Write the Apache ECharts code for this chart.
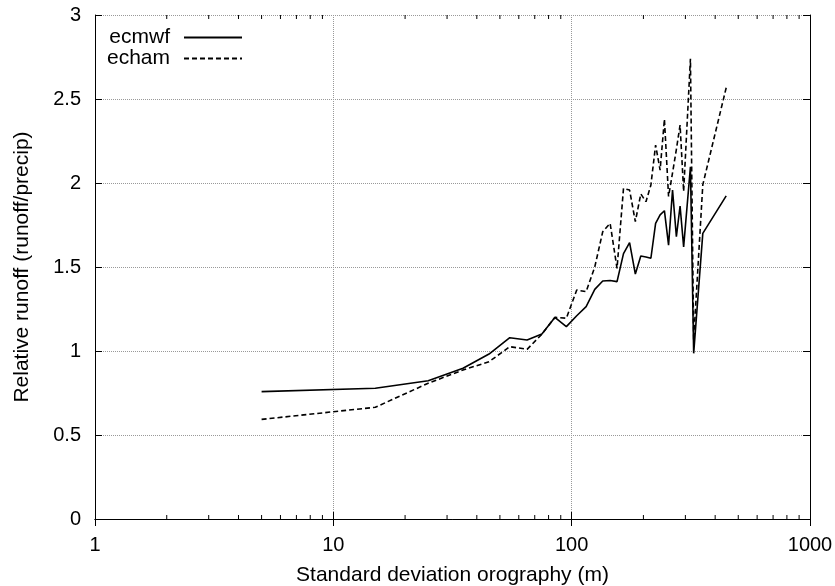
<!DOCTYPE html>
<html>
<head>
<meta charset="utf-8">
<title>Relative runoff</title>
<script src="https://cdn.jsdelivr.net/npm/echarts@6/dist/echarts.min.js"></script>
<style>
  html, body { margin: 0; padding: 0; background: #fff; }
  #chart { width: 835px; height: 586px; }
</style>
</head>
<body>
<div id="chart"></div>
<script>
// bins of standard deviation orography (m)
const orography = [5, 15, 25, 35, 45, 55, 65, 75, 85, 95, 105, 115, 125, 135, 145, 155, 165, 175,
  185, 195, 205, 215, 225, 235, 245, 255, 265, 275, 285, 295, 315, 325, 355, 445];

const ecmwf = [0.758, 0.778, 0.823, 0.897, 0.982, 1.079, 1.065, 1.101, 1.20, 1.145, 1.21, 1.264,
  1.367, 1.417, 1.42, 1.413, 1.58, 1.645, 1.458, 1.565, 1.56, 1.552, 1.76, 1.81, 1.835, 1.63,
  1.958, 1.68, 1.863, 1.62, 2.097, 0.986, 1.70, 1.923];

const echam = [0.593, 0.665, 0.808, 0.887, 0.936, 1.026, 1.01, 1.10, 1.20, 1.195, 1.363, 1.353,
  1.50, 1.71, 1.76, 1.492, 1.968, 1.958, 1.77, 1.935, 1.889, 1.988, 2.226, 2.077, 2.38, 1.92,
  2.06, 2.2, 2.345, 1.95, 2.74, 1.065, 1.99, 2.567];

// minor ticks of the log axis
const minorTicks = [2, 3, 4, 5, 6, 7, 8, 9, 20, 30, 40, 50, 60, 70, 80, 90,
  200, 300, 400, 500, 600, 700, 800, 900];

const font = "'Liberation Sans', Arial, Helvetica, sans-serif";

const chart = echarts.init(document.getElementById('chart'), null, { renderer: 'canvas' });

function pairs(xs, ys) {
  return xs.map(function (x, i) { return [x, ys[i]]; });
}

const option = {
  backgroundColor: '#fff',
  animation: false,
  textStyle: { fontFamily: font, color: '#000' },
  grid: { left: 95, right: 25, top: 15, bottom: 67, outerBoundsMode: 'none', containLabel: false },
  legend: {
    data: ['ecmwf', 'echam'],
    orient: 'vertical',
    align: 'right',
    left: 93,
    top: 22,
    itemWidth: 58,
    itemHeight: 14,
    itemGap: 0,
    itemStyle: { color: 'transparent', borderColor: 'transparent', borderWidth: 0, opacity: 0 },
    textStyle: {
      fontFamily: font, fontSize: 21, color: '#000',
      width: 72, align: 'right', padding: [0, 9, 0, 0], lineHeight: 20
    }
  },
  xAxis: [{
    type: 'log',
    logBase: 10,
    min: 1,
    max: 1000,
    name: 'Standard deviation orography (m)',
    nameLocation: 'middle',
    nameGap: 46,
    nameTextStyle: { fontFamily: font, fontSize: 21, color: '#000' },
    axisLine: { show: true, lineStyle: { color: '#000', width: 1 } },
    axisTick: { inside: true, length: 7, lineStyle: { color: '#000' } },
    axisLabel: {
      fontFamily: font, fontSize: 20, color: '#000', margin: 16,
      formatter: function (v) { return String(v); }
    },
    splitLine: { show: true, lineStyle: { color: '#999', type: 'dotted', width: 1 } }
  }, {
    type: 'log',
    logBase: 10,
    min: 1,
    max: 1000,
    position: 'top',
    axisLine: { show: true, lineStyle: { color: '#000', width: 1 } },
    axisTick: { inside: true, length: 7, lineStyle: { color: '#000' } },
    axisLabel: { show: false },
    splitLine: { show: false }
  }],
  yAxis: [{
    type: 'value',
    min: 0,
    max: 3,
    interval: 0.5,
    name: 'Relative runoff (runoff/precip)',
    nameLocation: 'middle',
    nameGap: 62,
    nameTextStyle: { fontFamily: font, fontSize: 21, color: '#000' },
    axisLine: { show: true, lineStyle: { color: '#000', width: 1 } },
    axisTick: { inside: true, length: 7, lineStyle: { color: '#000' } },
    axisLabel: { fontFamily: font, fontSize: 20, color: '#000', margin: 14 },
    splitLine: { show: true, lineStyle: { color: '#999', type: 'dotted', width: 1 } }
  }, {
    type: 'value',
    min: 0,
    max: 3,
    interval: 0.5,
    position: 'right',
    axisLine: { show: true, lineStyle: { color: '#000', width: 1 } },
    axisTick: { inside: true, length: 7, lineStyle: { color: '#000' } },
    axisLabel: { show: false },
    splitLine: { show: false }
  }],
  series: [{
    name: 'ecmwf',
    type: 'line',
    data: pairs(orography, ecmwf),
    symbol: 'none',
    color: '#000',
    lineStyle: { color: '#000', width: 1.6 }
  }, {
    name: 'echam',
    type: 'line',
    data: pairs(orography, echam),
    symbol: 'none',
    color: '#000',
    lineStyle: { color: '#000', width: 1.6, type: [5, 3] }
  }, {
    name: 'minor',
    type: 'custom',
    clip: false,
    silent: true,
    data: minorTicks.map(function (v) { return [v, 0]; }),
    renderItem: function (params, api) {
      const bottom = api.coord([api.value(0), 0]);
      const top = api.coord([api.value(0), 3]);
      const style = { stroke: '#000', lineWidth: 1 };
      return {
        type: 'group',
        children: [
          { type: 'line', shape: { x1: bottom[0], y1: bottom[1], x2: bottom[0], y2: bottom[1] - 4 }, style: style },
          { type: 'line', shape: { x1: top[0], y1: top[1], x2: top[0], y2: top[1] + 4 }, style: style }
        ]
      };
    }
  }]
};

chart.setOption(option);
</script>
</body>
</html>
